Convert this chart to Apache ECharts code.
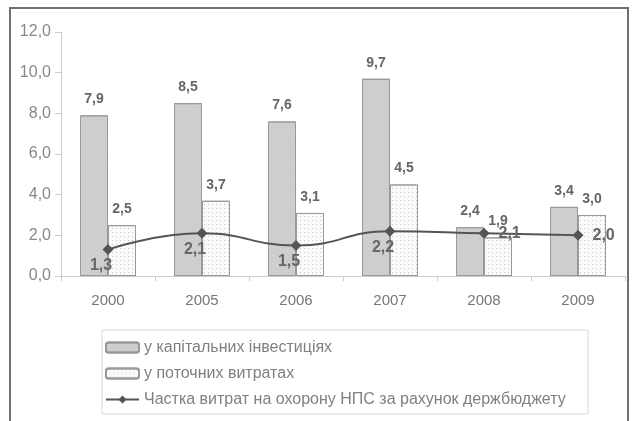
<!DOCTYPE html>
<html>
<head>
<meta charset="utf-8">
<script src="https://cdn.jsdelivr.net/npm/echarts@6/dist/echarts.min.js"></script>
<style>
  html, body { margin: 0; padding: 0; background: #fff; }
  #chart { width: 632px; height: 421px; }
</style>
</head>
<body>
<div id="chart"></div>
<script>
const years = ['2000', '2005', '2006', '2007', '2008', '2009'];
const capital = [7.9, 8.5, 7.6, 9.7, 2.4, 3.4];
const current = [2.5, 3.7, 3.1, 4.5, 1.9, 3.0];
const share = [1.3, 2.1, 1.5, 2.2, 2.1, 2.0];
// label side for the line values
const sharePos = ['bottom', 'bottom', 'bottom', 'bottom', 'right', 'right'];

const fmt = v => v.toFixed(1).replace('.', ',');
const font = 'Liberation Sans, Arial, sans-serif';

const chart = echarts.init(document.getElementById('chart'));

chart.setOption({
  animation: false,
  textStyle: { fontFamily: font },
  graphic: [{
    type: 'rect',
    shape: { x: 10, y: 8, width: 618, height: 430 },
    style: { fill: 'none', stroke: '#707070', lineWidth: 2 },
    silent: true
  }],
  grid: { left: 61, right: 7, top: 32, bottom: 145 },
  legend: {
    orient: 'vertical',
    left: 102,
    top: 330,
    padding: [9, 4, 6, 3],
    itemGap: 9,
    itemWidth: 33,
    itemHeight: 10,
    borderColor: '#d8d8d8',
    borderWidth: 1,
    textStyle: { color: '#808080', fontSize: 16, lineHeight: 17, width: 440, fontFamily: font },
    data: ['у капітальних інвестиціях', 'у поточних витратах', 'Частка витрат на охорону НПС за рахунок держбюджету']
  },
  xAxis: {
    type: 'category',
    data: years,
    axisLine: { lineStyle: { color: '#ccc' } },
    axisTick: { show: true, length: 5, lineStyle: { color: '#ccc' } },
    axisLabel: { color: '#777', fontSize: 15, margin: 17 }
  },
  yAxis: {
    type: 'value',
    min: 0,
    max: 12,
    interval: 2,
    splitLine: { show: false },
    axisLine: { show: true, lineStyle: { color: '#ccc' } },
    axisTick: { show: true, length: 6, lineStyle: { color: '#ccc' } },
    axisLabel: { color: '#888', fontSize: 16, margin: 10, formatter: v => fmt(v) }
  },
  series: [
    {
      name: 'у капітальних інвестиціях',
      type: 'bar',
      data: capital,
      barWidth: 28,
      barGap: '0%',
      itemStyle: {
        color: '#d0d0d0',
        borderColor: '#999',
        borderWidth: 1,
        decal: {
          symbol: 'rect',
          symbolSize: 1,
          color: 'rgba(150,150,150,0.3)',
          dashArrayX: [1, 2],
          dashArrayY: [1, 2],
          rotation: Math.PI / 4
        }
      },
      label: {
        show: true,
        position: 'top',
        distance: 9,
        color: '#666',
        fontSize: 14,
        fontWeight: 'bold',
        formatter: p => fmt(p.value)
      }
    },
    {
      name: 'у поточних витратах',
      type: 'bar',
      data: current,
      barWidth: 28,
      itemStyle: {
        color: '#fafafa',
        borderColor: '#999',
        borderWidth: 1,
        decal: {
          symbol: 'circle',
          symbolSize: 1,
          color: '#b8b8b8',
          dashArrayX: [1, 3],
          dashArrayY: [1, 3]
        }
      },
      label: {
        show: true,
        position: 'top',
        distance: 9,
        color: '#666',
        fontSize: 14,
        fontWeight: 'bold',
        formatter: p => fmt(p.value)
      }
    },
    {
      name: 'Частка витрат на охорону НПС за рахунок держбюджету',
      type: 'line',
      smooth: true,
      data: share.map((v, i) => ({
        value: v,
        label: i < 4
          ? { position: sharePos[i], distance: 3, offset: [-7, 0] }
          : { position: sharePos[i], distance: 9 }
      })),
      symbol: 'diamond',
      symbolSize: 11,
      lineStyle: { color: '#555', width: 2 },
      itemStyle: { color: '#555' },
      label: {
        show: true,
        color: '#666',
        fontSize: 16,
        fontWeight: 'bold',
        formatter: p => fmt(p.value)
      },
      z: 5
    }
  ]
});
</script>
</body>
</html>
